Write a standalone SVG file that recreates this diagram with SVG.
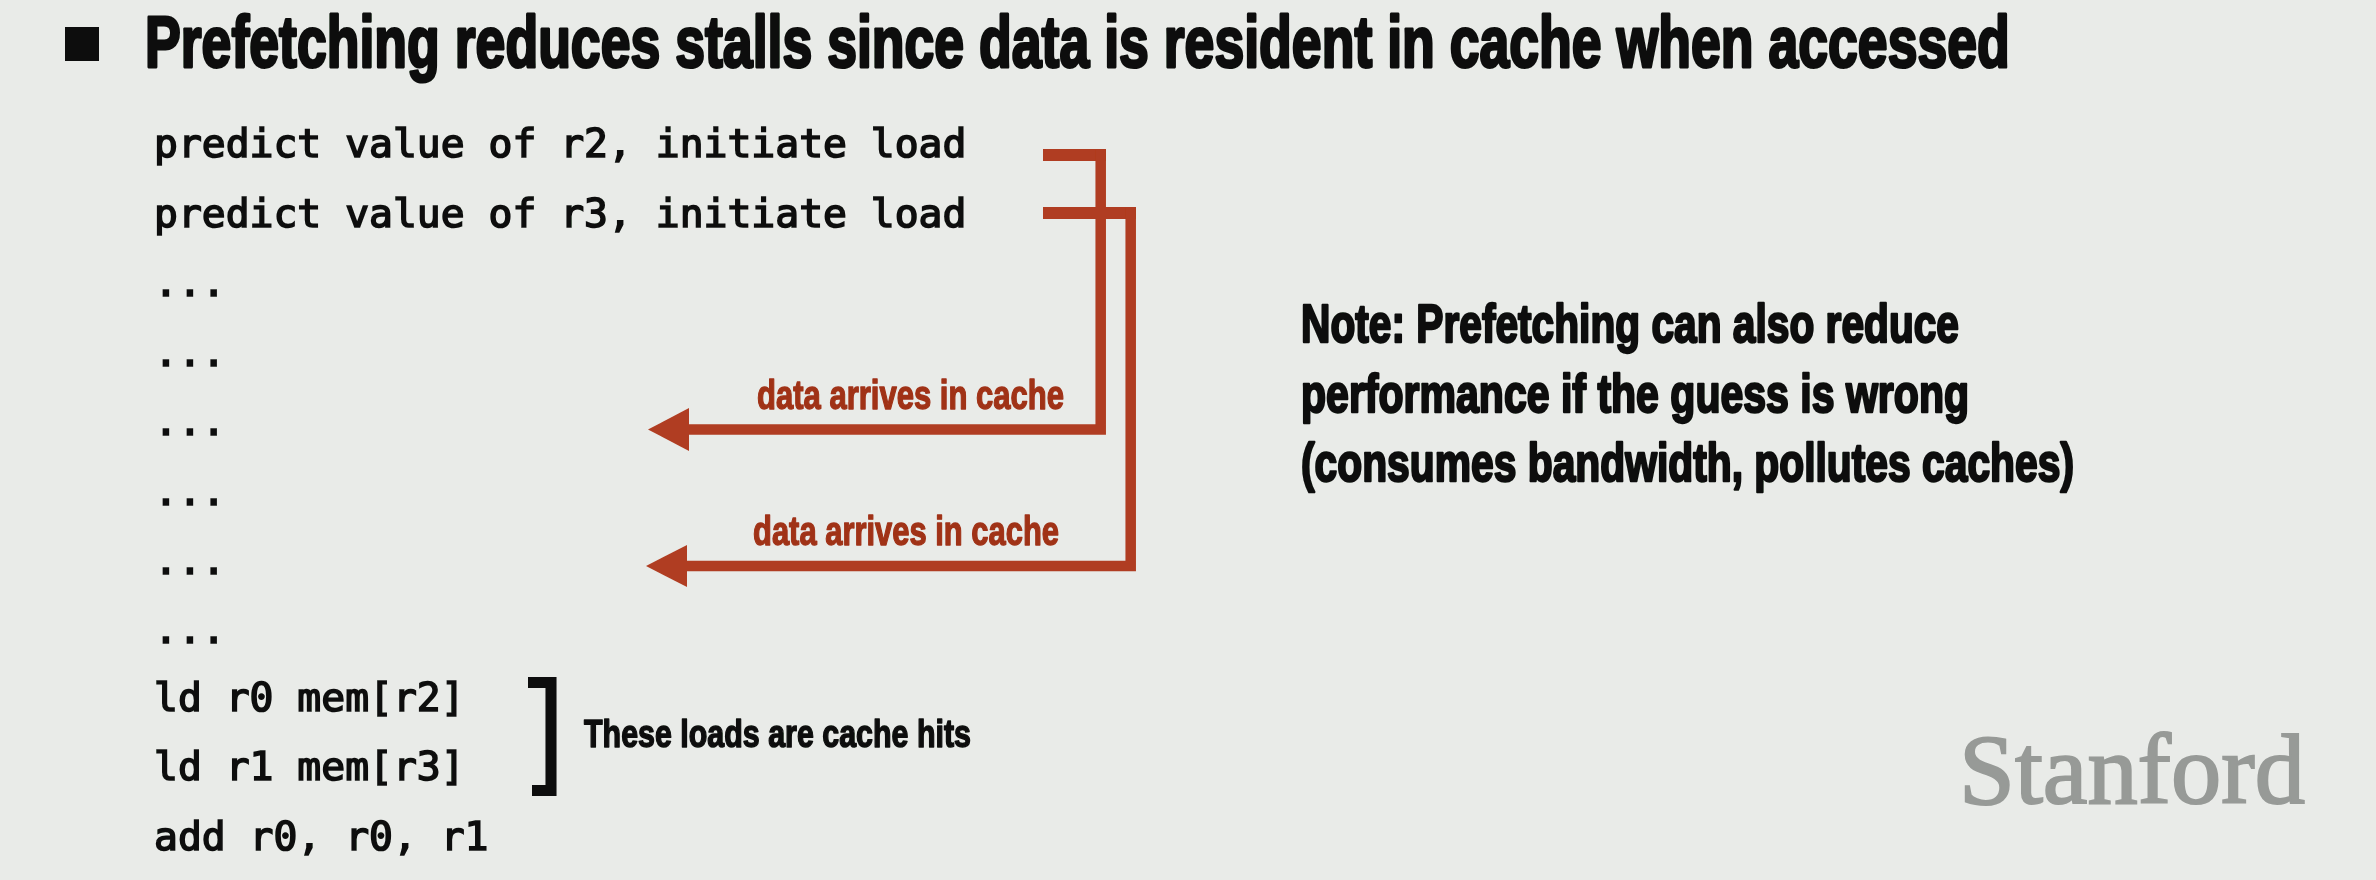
<svg xmlns="http://www.w3.org/2000/svg" width="2376" height="880" viewBox="0 0 2376 880">
<style>
.sans{font-family:"Liberation Sans",Arial,sans-serif;font-weight:700;fill:#0a0c0a;stroke:#0a0c0a;stroke-linejoin:round}
.mono{font-family:"DejaVu Sans Mono",monospace;font-weight:400;font-size:39.7px;fill:#0a0c0a;stroke:#0a0c0a;stroke-width:1.600}
.red{font-family:"Liberation Sans",Arial,sans-serif;font-weight:700;font-size:41px;fill:#a03219;stroke:#a03219;stroke-width:1.400;stroke-linejoin:round}
.conn{fill:none;stroke:#b03c20;stroke-width:10.500}
.stub{fill:none;stroke:#b03c20;stroke-width:12}
.head{fill:#b03c20}
</style>
<defs><filter id="soft" x="-2%" y="-10%" width="104%" height="120%"><feGaussianBlur stdDeviation="0.6"/></filter></defs>
<rect width="2376" height="880" fill="#e9ebe8"/>
<g filter="url(#soft)">
<g id="title">
<rect x="65" y="27" width="34" height="34" fill="#0a0c0a"/>
<text class="sans" transform="translate(145 67) scale(0.7 1)" font-size="73" stroke-width="3" textLength="2664" lengthAdjust="spacingAndGlyphs">Prefetching reduces stalls since data is resident in cache when accessed</text>
</g>
<g id="code">
<text class="mono" x="154" y="157">predict value of r2, initiate load</text>
<text class="mono" x="154" y="227">predict value of r3, initiate load</text>
<text class="mono" x="154" y="296">...</text>
<text class="mono" x="154" y="366">...</text>
<text class="mono" x="154" y="435">...</text>
<text class="mono" x="154" y="505">...</text>
<text class="mono" x="154" y="574">...</text>
<text class="mono" x="154" y="643">...</text>
<text class="mono" x="154" y="711">ld r0 mem[r2]</text>
<text class="mono" x="154" y="780">ld r1 mem[r3]</text>
<text class="mono" x="154" y="850">add r0, r0, r1</text>
</g>
<g id="connectors">
<path class="stub" d="M1043 155H1106"/>
<path class="conn" d="M1100.700 150V429.500H685"/>
<polygon class="head" points="648,429.500 689,408 689,451"/>
<path class="stub" d="M1043 213H1136"/>
<path class="conn" d="M1130.700 208V566H685"/>
<polygon class="head" points="646,566 687,545 687,587"/>
</g>
<g id="label-arrive-1"><text class="red" x="757" y="409" textLength="307" lengthAdjust="spacingAndGlyphs">data arrives in cache</text></g>
<g id="label-arrive-2"><text class="red" x="753" y="545" textLength="306" lengthAdjust="spacingAndGlyphs">data arrives in cache</text></g>
<g id="note">
<text class="sans" x="1301" y="342" font-size="53" stroke-width="2.400" textLength="658" lengthAdjust="spacingAndGlyphs">Note: Prefetching can also reduce</text>
<text class="sans" x="1301" y="412" font-size="53" stroke-width="2.400" textLength="668" lengthAdjust="spacingAndGlyphs">performance if the guess is wrong</text>
<text class="sans" x="1301" y="481" font-size="53" stroke-width="2.400" textLength="773" lengthAdjust="spacingAndGlyphs">(consumes bandwidth, pollutes caches)</text>
</g>
<g id="bracket">
<path d="M528 682.500H551V790.500H532" fill="none" stroke="#0a0c0a" stroke-width="11"/>
<text class="sans" x="584" y="747" font-size="39" stroke-width="1.500" textLength="387" lengthAdjust="spacingAndGlyphs">These loads are cache hits</text>
</g>
<g id="logo"><text x="1959" y="803" font-family="Liberation Serif,serif" font-size="100" fill="#979a97" stroke="#979a97" stroke-width="2" textLength="346" lengthAdjust="spacingAndGlyphs">Stanford</text></g>
</g>
</svg>
